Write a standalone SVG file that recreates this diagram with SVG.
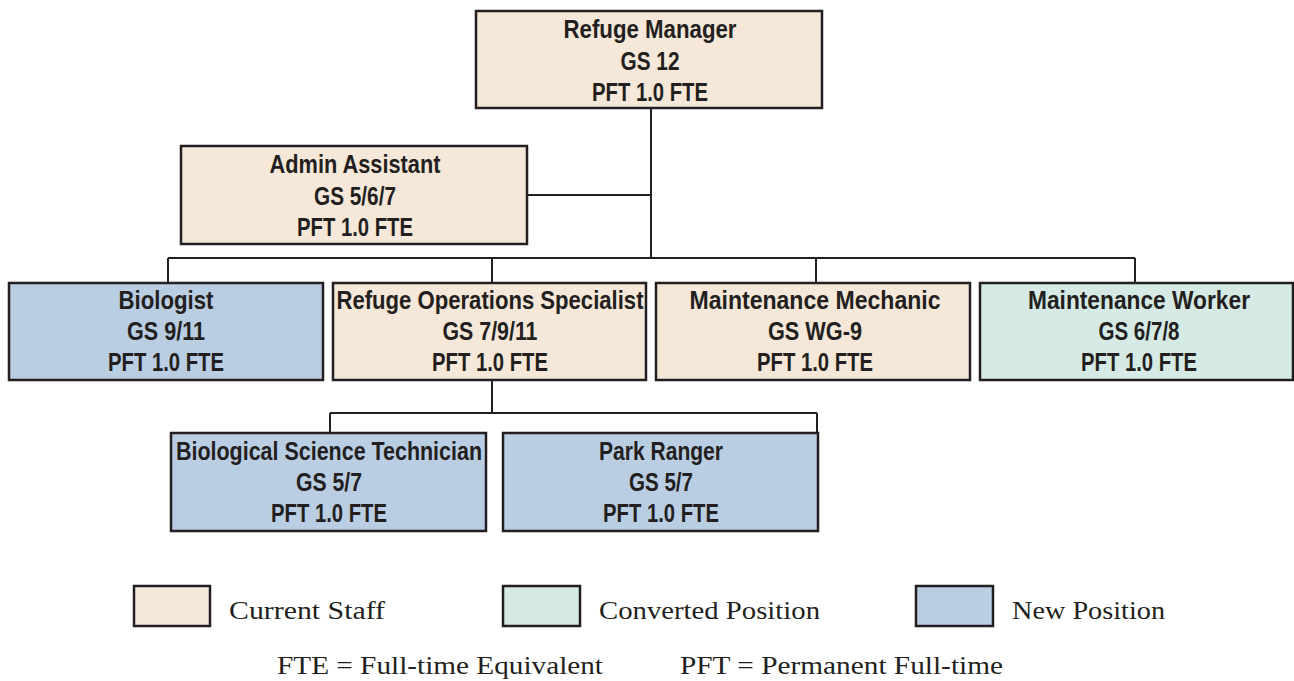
<svg xmlns="http://www.w3.org/2000/svg" width="1294" height="681" viewBox="0 0 1294 681">
<style>
.box{stroke:#231f20;stroke-width:2.5}
.cur{fill:#f5e8d8}
.conv{fill:#d5eae5}
.new{fill:#b9cde3}
.t{font-family:"Liberation Sans",Arial,sans-serif;font-weight:bold;font-size:25px;fill:#231f20;text-anchor:middle}
.lg{font-family:"Liberation Serif","DejaVu Serif",serif;font-size:26px;fill:#231f20}
.ln{fill:none;stroke:#231f20;stroke-width:2}
</style>
<rect width="1294" height="681" fill="#fff"/>
<g id="connectors">
<path class="ln" d="M651 108V258M527 195H651M168 258H1135M168 258V283M492 258V283M816 258V283M1135 258V283M492 380V413M330 413H817M330 413V433M817 413V433"/>
</g>
<g id="refuge-manager">
<rect class="box cur" x="476" y="11" width="346" height="97"/>
<text class="t" x="650" y="38" textLength="173" lengthAdjust="spacingAndGlyphs">Refuge Manager</text>
<text class="t" x="650" y="70" textLength="59" lengthAdjust="spacingAndGlyphs">GS 12</text>
<text class="t" x="650" y="101" textLength="116" lengthAdjust="spacingAndGlyphs">PFT 1.0 FTE</text>
</g>
<g id="admin-assistant">
<rect class="box cur" x="181" y="146" width="346" height="98"/>
<text class="t" x="355" y="173" textLength="171" lengthAdjust="spacingAndGlyphs">Admin Assistant</text>
<text class="t" x="355" y="205" textLength="82" lengthAdjust="spacingAndGlyphs">GS 5/6/7</text>
<text class="t" x="355" y="236" textLength="116" lengthAdjust="spacingAndGlyphs">PFT 1.0 FTE</text>
</g>
<g id="biologist">
<rect class="box new" x="9" y="283" width="314" height="97"/>
<text class="t" x="166" y="309" textLength="95" lengthAdjust="spacingAndGlyphs">Biologist</text>
<text class="t" x="166" y="340" textLength="78" lengthAdjust="spacingAndGlyphs">GS 9/11</text>
<text class="t" x="166" y="371" textLength="116" lengthAdjust="spacingAndGlyphs">PFT 1.0 FTE</text>
</g>
<g id="refuge-operations-specialist">
<rect class="box cur" x="333" y="283" width="313" height="97"/>
<text class="t" x="490" y="309" textLength="307" lengthAdjust="spacingAndGlyphs">Refuge Operations Specialist</text>
<text class="t" x="490" y="340" textLength="95" lengthAdjust="spacingAndGlyphs">GS 7/9/11</text>
<text class="t" x="490" y="371" textLength="116" lengthAdjust="spacingAndGlyphs">PFT 1.0 FTE</text>
</g>
<g id="maintenance-mechanic">
<rect class="box cur" x="656" y="283" width="314" height="97"/>
<text class="t" x="815" y="309" textLength="251" lengthAdjust="spacingAndGlyphs">Maintenance Mechanic</text>
<text class="t" x="815" y="340" textLength="94" lengthAdjust="spacingAndGlyphs">GS WG-9</text>
<text class="t" x="815" y="371" textLength="116" lengthAdjust="spacingAndGlyphs">PFT 1.0 FTE</text>
</g>
<g id="maintenance-worker">
<rect class="box conv" x="980" y="283" width="313" height="97"/>
<text class="t" x="1139" y="309" textLength="222" lengthAdjust="spacingAndGlyphs">Maintenance Worker</text>
<text class="t" x="1139" y="340" textLength="81" lengthAdjust="spacingAndGlyphs">GS 6/7/8</text>
<text class="t" x="1139" y="371" textLength="116" lengthAdjust="spacingAndGlyphs">PFT 1.0 FTE</text>
</g>
<g id="biological-science-technician">
<rect class="box new" x="171" y="433" width="315" height="98"/>
<text class="t" x="329" y="460" textLength="306" lengthAdjust="spacingAndGlyphs">Biological Science Technician</text>
<text class="t" x="329" y="491" textLength="66" lengthAdjust="spacingAndGlyphs">GS 5/7</text>
<text class="t" x="329" y="522" textLength="116" lengthAdjust="spacingAndGlyphs">PFT 1.0 FTE</text>
</g>
<g id="park-ranger">
<rect class="box new" x="503" y="433" width="315" height="98"/>
<text class="t" x="661" y="460" textLength="124" lengthAdjust="spacingAndGlyphs">Park Ranger</text>
<text class="t" x="661" y="491" textLength="64" lengthAdjust="spacingAndGlyphs">GS 5/7</text>
<text class="t" x="661" y="522" textLength="116" lengthAdjust="spacingAndGlyphs">PFT 1.0 FTE</text>
</g>
<g id="legend">
<rect class="box cur" x="134" y="586" width="76" height="40"/>
<text class="lg" x="229" y="619" textLength="156" lengthAdjust="spacingAndGlyphs">Current Staff</text>
<rect class="box conv" x="503" y="586" width="77" height="40"/>
<text class="lg" x="599" y="619" textLength="221" lengthAdjust="spacingAndGlyphs">Converted Position</text>
<rect class="box new" x="916" y="586" width="77" height="40"/>
<text class="lg" x="1012" y="619" textLength="153" lengthAdjust="spacingAndGlyphs">New Position</text>
<text class="lg" x="277" y="674" textLength="326" lengthAdjust="spacingAndGlyphs">FTE = Full-time Equivalent</text>
<text class="lg" x="680" y="674" textLength="323" lengthAdjust="spacingAndGlyphs">PFT = Permanent Full-time</text>
</g>
</svg>
